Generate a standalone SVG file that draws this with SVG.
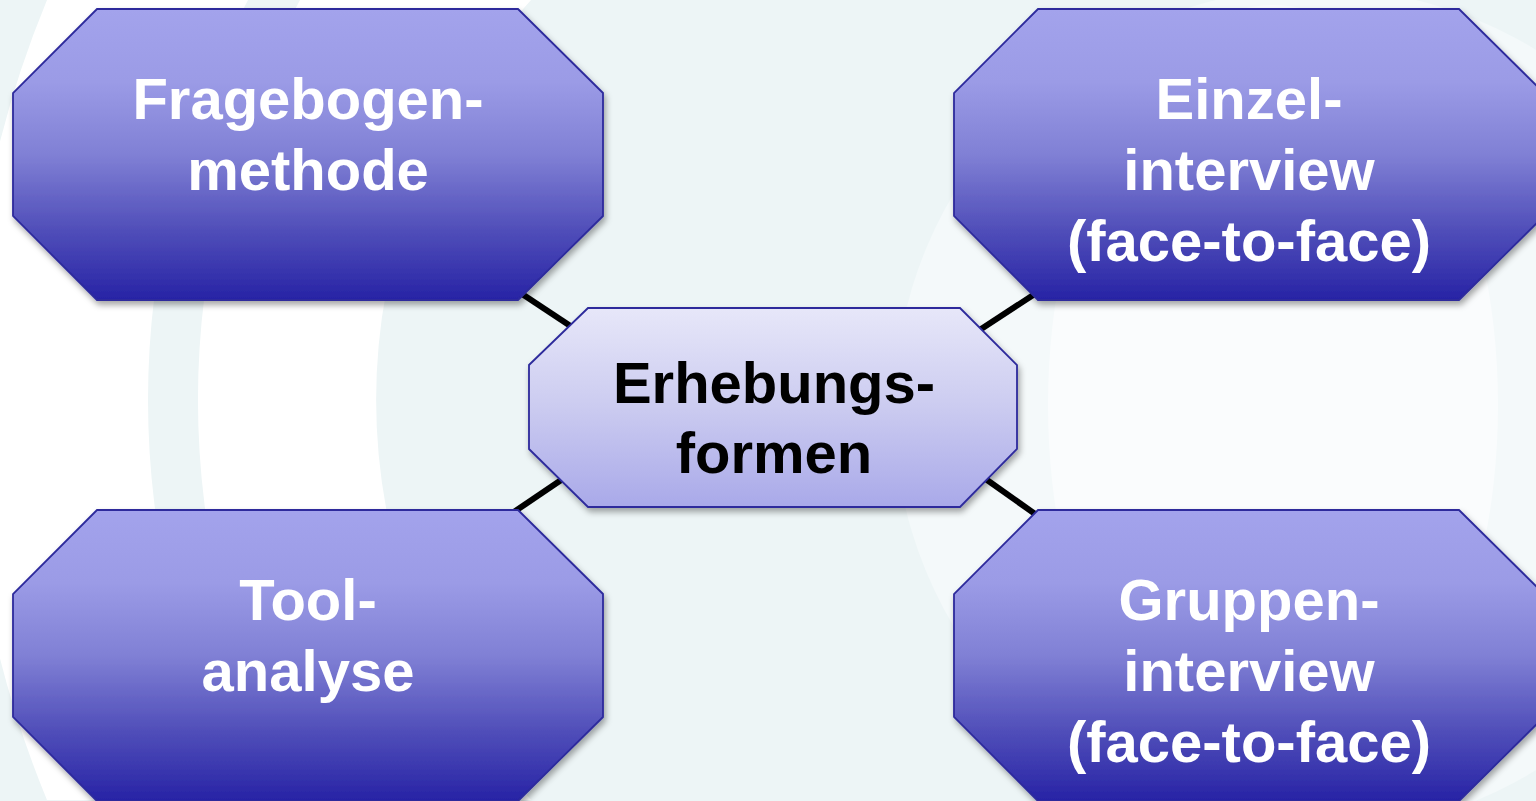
<svg xmlns="http://www.w3.org/2000/svg" width="1536" height="801" viewBox="0 0 1536 801">
  <defs>
    <linearGradient id="gradOuter" x1="0" y1="0" x2="0" y2="1">
      <stop offset="0" stop-color="#A3A3EC"/>
      <stop offset="0.25" stop-color="#9B9BE6"/>
      <stop offset="0.5" stop-color="#8080D5"/>
      <stop offset="0.75" stop-color="#5250BA"/>
      <stop offset="1" stop-color="#2723A5"/>
    </linearGradient>
    <linearGradient id="gradCenter" x1="0" y1="0" x2="0" y2="1">
      <stop offset="0" stop-color="#E7E7F9"/>
      <stop offset="0.5" stop-color="#CBCBF0"/>
      <stop offset="1" stop-color="#A9A9E9"/>
    </linearGradient>
    <filter id="shadow" x="-10%" y="-10%" width="120%" height="125%">
      <feDropShadow dx="2" dy="4" stdDeviation="3" flood-color="#000" flood-opacity="0.35"/>
    </filter>
  </defs>
  <style>
    .node { stroke: #2D2B9C; stroke-width: 1.8; filter: url(#shadow); }
    .outer { fill: url(#gradOuter); }
    .center { fill: url(#gradCenter); }
    .label { font-family: "Liberation Sans", Arial, sans-serif; font-weight: bold; font-size: 58px; text-anchor: middle; }
    .light { fill: #FFFFFF; }
    .dark { fill: #000000; }
    .edge { stroke: #000; stroke-width: 6; fill: none; }
  </style>

  <!-- backdrop -->
  <rect width="1536" height="801" fill="#EDF5F6"/>
  <g id="backdrop-arcs">
    <path d="M47,0 A1047,1047 0 0 0 47,800 L248,800 A850,850 0 0 1 248,0 Z" fill="#FFFFFF"/>
    <path d="M300,0 A835,835 0 0 0 300,800 L531,800 A594,594 0 0 1 531,0 Z" fill="#FFFFFF"/>
    <circle cx="1316" cy="410" r="422" fill="#F4F9FA"/>
    <ellipse cx="1273" cy="405" rx="225" ry="400" fill="#FAFCFD"/>
  </g>

  <!-- connectors -->
  <g id="connectors">
    <line class="edge" x1="510" y1="286" x2="578" y2="331"/>
    <line class="edge" x1="1047" y1="286" x2="972" y2="335"/>
    <line class="edge" x1="505" y1="518" x2="570" y2="474"/>
    <line class="edge" x1="980" y1="475" x2="1045" y2="521"/>
  </g>

  <g id="node-fragebogen">
    <polygon class="node outer" points="97,9 518,9 603,93 603,216 518,300 97,300 13,216 13,93"/>
    <text class="label light" x="308" y="119">Fragebogen-</text>
    <text class="label light" x="308" y="190">methode</text>
  </g>

  <g id="node-einzelinterview">
    <polygon class="node outer" points="1038,9 1459,9 1544,93 1544,216 1459,300 1038,300 954,216 954,93"/>
    <text class="label light" x="1249" y="119">Einzel-</text>
    <text class="label light" x="1249" y="190">interview</text>
    <text class="label light" x="1249" y="261">(face-to-face)</text>
  </g>

  <g id="node-toolanalyse">
    <polygon class="node outer" points="97,510 518,510 603,594 603,717 518,801 97,801 13,717 13,594"/>
    <text class="label light" x="308" y="620">Tool-</text>
    <text class="label light" x="308" y="691">analyse</text>
  </g>

  <g id="node-gruppeninterview">
    <polygon class="node outer" points="1038,510 1459,510 1544,594 1544,717 1459,801 1038,801 954,717 954,594"/>
    <text class="label light" x="1249" y="620">Gruppen-</text>
    <text class="label light" x="1249" y="691">interview</text>
    <text class="label light" x="1249" y="762">(face-to-face)</text>
  </g>

  <g id="node-erhebungsformen">
    <polygon class="node center" points="588,308 960,308 1017,365 1017,449 960,507 588,507 529,449 529,365"/>
    <text class="label dark" x="774" y="403">Erhebungs-</text>
    <text class="label dark" x="774" y="473">formen</text>
  </g>
</svg>
